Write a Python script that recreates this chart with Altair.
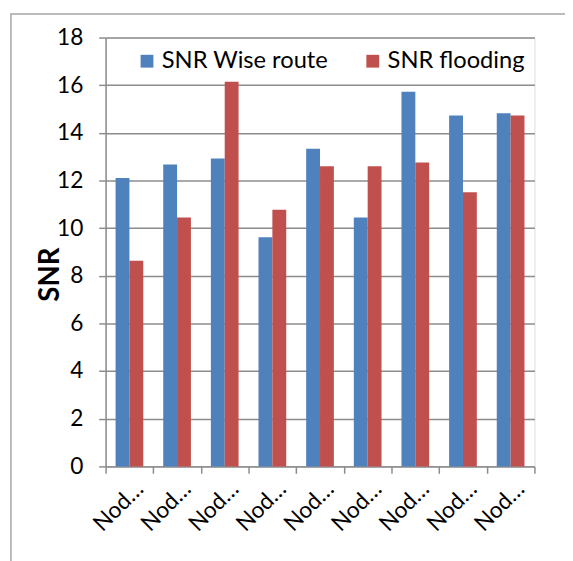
import altair as alt
import pandas as pd

nodes = ["Node 1", "Node 2", "Node 3", "Node 4", "Node 5", "Node 6", "Node 7", "Node 8", "Node 9"]
series = ["SNR Wise route", "SNR flooding"]
wise_route = [12.1, 12.67, 12.92, 9.62, 13.33, 10.45, 15.72, 14.73, 14.82]
flooding = [8.63, 10.45, 16.14, 10.77, 12.6, 12.6, 12.76, 11.51, 14.73]
colors = ["#4F81BD", "#C0504D"]

rows = []
for n, a, b in zip(nodes, wise_route, flooding):
    rows.append({"node": n, "series": series[0], "snr": a})
    rows.append({"node": n, "series": series[1], "snr": b})
df = pd.DataFrame(rows)

FONT = "Lato"
GRID = "#8c8c8c"

bars = alt.Chart(df).mark_bar().encode(
    x=alt.X("node:N", sort=nodes,
            scale=alt.Scale(paddingInner=0, paddingOuter=0),
            axis=alt.Axis(title=None, tickBand="extent", labelAngle=-45,
                          labelAlign="right", labelBaseline="middle",
                          labelExpr="datum.label ? substring(datum.label, 0, 3) + '…' : ''",
                          labelFontSize=23, labelFont=FONT, labelColor="#000000",
                          labelPadding=12, labelOffset=10,
                          tickSize=7, tickColor=GRID, tickWidth=1.5,
                          domainColor=GRID, domainWidth=1.5, grid=False)),
    xOffset=alt.XOffset("series:N", sort=series,
                        scale=alt.Scale(paddingOuter=0.72, paddingInner=0)),
    y=alt.Y("snr:Q", scale=alt.Scale(domain=[0, 18]),
            axis=alt.Axis(title="SNR", values=list(range(0, 19, 2)),
                          titleFont=FONT, titleFontSize=28, titleFontWeight="bold",
                          titleColor="#000000", titleX=-56, titleY=240,
                          titleAlign="center", titleBaseline="middle",
                          labelFont=FONT, labelFontSize=23, labelColor="#000000",
                          labelPadding=16, tickSize=7, tickColor=GRID, tickWidth=1.5,
                          domainColor=GRID, domainWidth=1.5,
                          gridColor=GRID, gridWidth=1.5)),
    color=alt.Color("series:N", sort=series,
                    scale=alt.Scale(domain=series, range=colors),
                    legend=alt.Legend(title=None, orient="none", direction="horizontal",
                                      legendX=30, legendY=12,
                                      symbolType="square", symbolSize=169,
                                      symbolStrokeWidth=0, labelLimit=400,
                                      labelFont=FONT, labelFontSize=24,
                                      labelColor="#000000", labelOffset=3,
                                      columnPadding=33)),
)

frame = alt.Chart(alt.Data(values=[{}])).mark_rect(
    fill=None, stroke="#a6a6a6", strokeWidth=1.5
).encode(
    x=alt.value(-96), x2=alt.value(480),
    y=alt.value(-24), y2=alt.value(540),
)

chart = alt.layer(frame, bars).properties(
    width=435, height=435,
    autosize=alt.AutoSizeParams(type="none"),
    padding={"left": 99, "top": 26, "right": 31, "bottom": 92},
).configure_view(stroke=None).configure(background="#ffffff")

chart.save("out.html", embed_options={"renderer": "svg", "actions": False})
